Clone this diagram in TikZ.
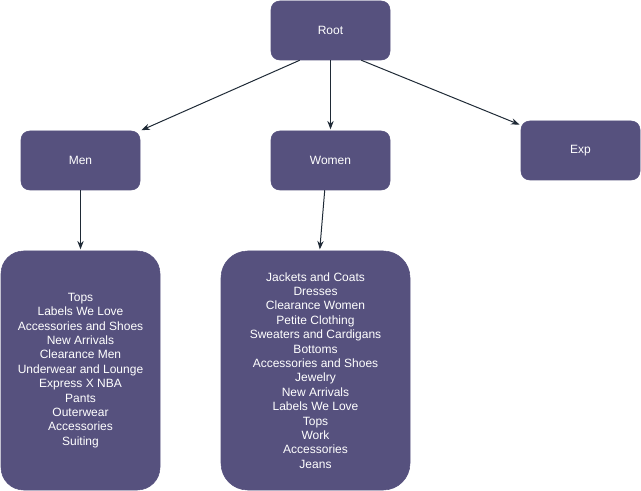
\documentclass[tikz,border=0pt]{standalone}
\usepackage{fontspec}
\setmainfont{Liberation Sans}
\usepackage{tikz}
\usetikzlibrary{arrows.meta,positioning}

\definecolor{boxpurple}{HTML}{56517E}
\definecolor{edgeink}{HTML}{1F2A36}

\begin{document}
\begin{tikzpicture}[x=0.75pt,y=-0.75pt,>=Stealth,
    catbox/.style={draw=boxpurple,fill=boxpurple,text=white,rounded corners=6.5pt,
      minimum width=89.25pt,minimum height=44.25pt,inner sep=0pt,
      font=\fontsize{9}{10.8}\selectfont},
    listbox/.style={catbox,align=center,minimum height=179.25pt},
    link/.style={->,draw=edgeink,line width=0.75pt,shorten >=1pt}]
  \useasboundingbox (0,0) rectangle (641,491);
  \node[catbox] (root) at (330.5,30.5) {Root};
  \node[catbox] (men) at (80.5,160.5) {Men};
  \node[catbox] (women) at (330.5,160.5) {Women};
  \node[catbox] (exp) at (580.5,150.5) {Exp};
  \node[listbox,minimum width=119.25pt,rounded corners=17pt] (menlist) at (80.5,370.5)
    {Tops\\Labels We Love\\Accessories and Shoes\\New Arrivals\\Clearance Men\\
     Underwear and Lounge\\Express X NBA\\Pants\\Outerwear\\Accessories\\Suiting};
  \node[listbox,minimum width=141.75pt,rounded corners=20pt] (womenlist) at (315.5,370.5)
    {Jackets and Coats\\Dresses\\Clearance Women\\Petite Clothing\\Sweaters and Cardigans\\
     Bottoms\\Accessories and Shoes\\Jewelry\\New Arrivals\\Labels We Love\\Tops\\Work\\
     Accessories\\Jeans};
  \draw[link] (root.-136) -- (men.north east);
  \draw[link] (root.south) -- (women.north);
  \draw[link] (root.-44) -- (exp.157);
  \draw[link] (men.south) -- (menlist.north);
  \draw[link] (women.-101) -- (womenlist.88);
\end{tikzpicture}
\end{document}
